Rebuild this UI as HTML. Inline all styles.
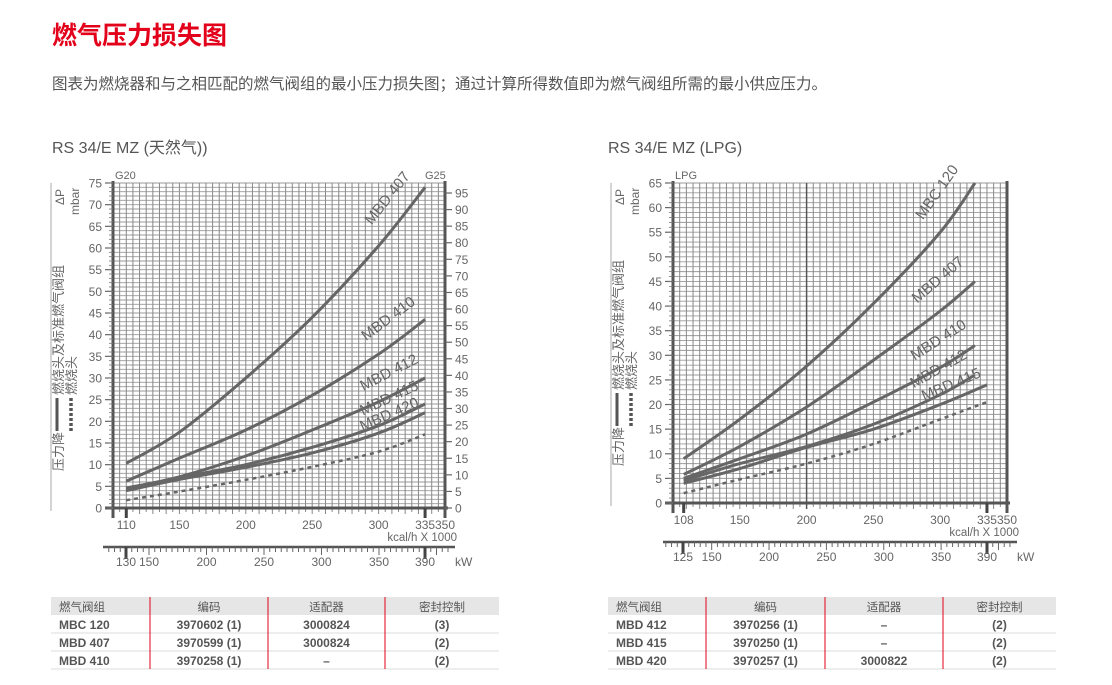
<!DOCTYPE html>
<html><head><meta charset="utf-8">
<style>
body{margin:0;background:#fff;width:1112px;height:685px;overflow:hidden;font-family:"Liberation Sans","Noto Sans CJK SC",sans-serif;}
svg{position:absolute;left:0;top:0}
</style></head>
<body>
<svg id="s" width="1112" height="685" xmlns="http://www.w3.org/2000/svg" font-family="Liberation Sans, Noto Sans CJK SC, sans-serif">
<text x="52" y="44" font-size="25" font-weight="bold" fill="#e2001a">燃气压力损失图</text>
<text x="52" y="89" font-size="15.5" fill="#555">图表为燃烧器和与之相匹配的燃气阀组的最小压力损失图；通过计算所得数值即为燃气阀组所需的最小供应压力。</text>
<text x="52" y="153" font-size="16" fill="#555">RS 34/E MZ (天然气))</text>
<text x="608" y="153" font-size="16" fill="#555">RS 34/E MZ (LPG)</text>
<g id="charts"></g>
<g id="tables"></g>
</svg>
<script>
// ---- Left chart (natural gas) data ----
const leftX = [110, 150, 200, 250, 300, 335];
const leftMBD407 = [10.3, 17.5, 30, 44, 60.5, 74];
const leftMBD410 = [6.2, 11.5, 18, 26, 35.5, 43.5];
const leftMBD412 = [4.6, 7.2, 12, 18, 24.5, 30];
const leftMBD415 = [4.2, 7, 10, 14, 19, 24];
const leftMBD420 = [4.0, 6.6, 9.4, 12.7, 17.3, 22];
const leftHead = [1.8, 3.8, 6.5, 9.5, 13, 17];
const leftYTicks = [0,5,10,15,20,25,30,35,40,45,50,55,60,65,70,75];
const leftG25Ticks = [0,5,10,15,20,25,30,35,40,45,50,55,60,65,70,75,80,85,90,95];
const leftXTicks = [110,150,200,250,300,335,350];
const leftKwTicks = [130,150,200,250,300,350,390];
// ---- Right chart (LPG) data ----
const rightX = [108, 150, 200, 250, 300, 326];
const rightX415 = [108, 150, 200, 250, 300, 335];
const rightMBC120 = [9, 17, 27.8, 40.5, 55, 65];
const rightMBD407 = [5.8, 11.5, 19.5, 29, 39, 45];
const rightMBD410 = [5, 9, 14, 20.5, 27.5, 32];
const rightMBD412 = [4.5, 8, 11.5, 16, 22, 26];
const rightMBD415 = [4, 7, 11.3, 15, 20, 24];
const rightHead = [2, 4.8, 8, 12, 17, 20.5];
const rightYTicks = [0,5,10,15,20,25,30,35,40,45,50,55,60,65];
const rightXTicks = [108,150,200,250,300,335,350];
const rightKwTicks = [125,150,200,250,300,350,390];

const NS="http://www.w3.org/2000/svg";
const root=document.getElementById('charts');
function mk(tag,attrs,parent,txt){const e=document.createElementNS(NS,tag);for(const k in attrs)e.setAttribute(k,attrs[k]);if(txt!==undefined)e.textContent=txt;(parent||root).appendChild(e);return e;}

function chart(c){
  const g=mk('g',{});
  
  
  const sx=v=>c.x0+(v-100)*(c.x1-c.x0)/250;
  const sy=v=>c.y0-(v)*(c.y0-c.y1)/c.ymax;
  const kx=v=>c.k0+(v-c.kv0)*(c.k1-c.k0)/(c.kv1-c.kv0);
  for(let v=0;v<=c.ymax;v++){
    const l=mk('line',{x1:c.x0,x2:c.x1,y1:sy(v),y2:sy(v),stroke:'#9a9a9a','stroke-width':0.9},g);
    
    
  }
  for(let v=100;v<=350;v+=5){
    const thick=(c.thick200&&v===200);
    const l=mk('line',{x1:sx(v),x2:sx(v),y1:c.y1,y2:c.y0+(v%10===0?6:4),stroke:thick?'#555':'#888','stroke-width':thick?1.5:1},g);
    
    
  }
  mk('line',{x1:c.x0,x2:c.x0,y1:c.y1-2,y2:c.y0+10,stroke:'#555','stroke-width':3},g);
  mk('line',{x1:c.x1,x2:c.x1,y1:c.y1-2,y2:c.y0+10,stroke:'#555','stroke-width':3},g);
  mk('line',{x1:c.x0-8,x2:c.x1+3,y1:c.y0,y2:c.y0,stroke:'#555','stroke-width':3},g);
  c.yTicks.forEach(v=>{
    mk('line',{x1:c.x0-8,x2:c.x0,y1:sy(v),y2:sy(v),stroke:'#666','stroke-width':1.2},g);
    const t=mk('text',{x:c.x0-11,y:sy(v)+4.5,'font-size':12,fill:'#666','text-anchor':'end'},g,String(v));
    
    
  });
  for(let v=0;v<=c.ymax;v++) mk('line',{x1:c.x0-4,x2:c.x0,y1:sy(v),y2:sy(v),stroke:'#777','stroke-width':0.8},g);
  if(c.g25){
    const gy=v=>c.y0-v*(c.y0-c.g25top)/95;
    c.g25.forEach(v=>{
      mk('line',{x1:c.x1,x2:c.x1+7,y1:gy(v),y2:gy(v),stroke:'#666','stroke-width':1.2},g);
      const t=mk('text',{x:c.x1+10,y:gy(v)+4.5,'font-size':12,fill:'#666'},g,String(v));
      
      
    });
    mk('text',{x:c.x1-20,y:c.y1-4,'font-size':11,fill:'#666'},g,'G25');
  }
  mk('text',{x:c.x0+2,y:c.y1-4,'font-size':11,fill:'#666'},g,c.gasLabel);
  c.xTicks.forEach(v=>{
    const t=mk('text',{x:sx(v),y:c.y0+21,'font-size':12,fill:'#666','text-anchor':'middle'},g,String(v));
    
    
  });
  mk('line',{x1:sx(c.xTicks[0]),x2:sx(c.xTicks[0]),y1:c.y0,y2:c.y0+10,stroke:'#444','stroke-width':3},g);
  mk('line',{x1:sx(335),x2:sx(335),y1:c.y0,y2:c.y0+10,stroke:'#444','stroke-width':3},g);
  mk('text',{x:c.x1+12,y:c.y0+33,'font-size':11.5,fill:'#666','text-anchor':'end'},g,'kcal/h X 1000');
  const ky=c.y0+39;
  mk('line',{x1:c.x0-10,x2:c.x1+10,y1:ky,y2:ky,stroke:'#555','stroke-width':2.5},g);
  for(let v=c.kv0-25;v<=c.kv1+20;v+=5){const px=kx(v);if(px<c.x0-9||px>c.x1+9)continue;mk('line',{x1:px,x2:px,y1:ky,y2:ky+(v%50===0?8:5),stroke:'#666','stroke-width':1},g);}
  mk('line',{x1:kx(c.kv0),x2:kx(c.kv0),y1:ky,y2:ky+12,stroke:'#444','stroke-width':3},g);
  mk('line',{x1:kx(c.kv1),x2:kx(c.kv1),y1:ky,y2:ky+12,stroke:'#444','stroke-width':3},g);
  c.kw.forEach(v=>{
    const t=mk('text',{x:kx(v),y:ky+19,'font-size':12,fill:'#666','text-anchor':'middle'},g,String(v));
    
    
  });
  mk('text',{x:c.x1+10,y:ky+19,'font-size':12,fill:'#666'},g,'kW');
  // side legend
  mk('line',{x1:c.x0-62,x2:c.x0-62,y1:c.y1,y2:c.y0+3,stroke:'#aaa','stroke-width':1},g);
  mk('text',{transform:`translate(${c.x0-49},${c.y1+22}) rotate(-90)`,'font-size':12,fill:'#666'},g,'ΔP');
  mk('text',{transform:`translate(${c.x0-34},${c.y1+32}) rotate(-90)`,'font-size':12,fill:'#666'},g,'mbar');
  mk('text',{transform:`translate(${c.x0-50},${c.y0-37}) rotate(-90)`,'font-size':13,fill:'#666'},g,'压力降');
  mk('line',{x1:c.x0-56,x2:c.x0-56,y1:c.y0-110,y2:c.y0-77,stroke:'#555','stroke-width':3},g);
  mk('line',{x1:c.x0-42,x2:c.x0-42,y1:c.y0-110,y2:c.y0-77,stroke:'#555','stroke-width':3.5,'stroke-dasharray':'3,2'},g);
  mk('text',{transform:`translate(${c.x0-50},${c.y0-113}) rotate(-90)`,'font-size':13,fill:'#666'},g,'燃烧头及标准燃气阀组');
  mk('text',{transform:`translate(${c.x0-37},${c.y0-113}) rotate(-90)`,'font-size':13,fill:'#666'},g,'燃烧头');
  c.series.forEach(s=>{
    const pts=s.x.map((xv,i)=>[sx(xv),sy(s.y[i])]);
    let d='M'+pts[0][0]+','+pts[0][1];
    for(let i=0;i<pts.length-1;i++){
      const p0=pts[i-1]||pts[i],p1=pts[i],p2=pts[i+1],p3=pts[i+2]||p2;
      d+=` C${p1[0]+(p2[0]-p0[0])/6},${p1[1]+(p2[1]-p0[1])/6} ${p2[0]-(p3[0]-p1[0])/6},${p2[1]-(p3[1]-p1[1])/6} ${p2[0]},${p2[1]}`;
    }
    const p=mk('path',{d:d,fill:'none',stroke:'#666','stroke-width':s.dash?2.5:3,'stroke-dasharray':s.dash?'4,4':'none'},g);
    
    
    if(s.label){
      const n=pts.length-1,a=Math.atan2(pts[n][1]-pts[n-1][1],pts[n][0]-pts[n-1][0])*180/Math.PI;
      const lx=pts[n][0]-34,ly=pts[n][1]+(pts[n-1][1]-pts[n][1])*0.2-4+s.off;
      const t=mk('text',{transform:`translate(${lx},${ly}) rotate(${a})`,'font-size':15,fill:'#666','text-anchor':'middle'},g,s.label);
      
      
    }
  });
}

chart({name:'left-chart',x0:113,x1:445,y0:508,y1:183,ymax:75,yTicks:leftYTicks,g25:leftG25Ticks,g25top:193,gasLabel:'G20',
  xTicks:leftXTicks,kw:leftKwTicks,k0:126,k1:425,kv0:130,kv1:390,
  series:[
    {id:'mbd-407-line',x:leftX,y:leftMBD407,label:'MBD 407',off:6},
    {id:'mbd-410-line',x:leftX,y:leftMBD410,label:'MBD 410',off:0},
    {id:'mbd-412-line',x:leftX,y:leftMBD412,label:'MBD 412',off:-2},
    {id:'mbd-415-line',x:leftX,y:leftMBD415,label:'MBD 415',off:-2},
    {id:'mbd-420-line',x:leftX,y:leftMBD420,label:'MBD 420',off:6},
    {id:'burner-head-line',x:leftX,y:leftHead,dash:true}
  ]});
chart({name:'right-chart',x0:673,x1:1007,y0:503,y1:183,ymax:65,yTicks:rightYTicks,gasLabel:'LPG',thick200:true,
  xTicks:rightXTicks,kw:rightKwTicks,k0:683,k1:987,kv0:125,kv1:390,
  series:[
    {id:'mbc-120-line',x:rightX,y:rightMBC120,label:'MBC 120',off:6},
    {id:'mbd-407-line',x:rightX,y:rightMBD407,label:'MBD 407',off:0},
    {id:'mbd-410-line',x:rightX,y:rightMBD410,label:'MBD 410',off:-2},
    {id:'mbd-412-line',x:rightX,y:rightMBD412,label:'MBD 412',off:-2},
    {id:'mbd-415-line',x:rightX415,y:rightMBD415,label:'MBD 415',off:4},
    {id:'burner-head-line',x:rightX415,y:rightHead,dash:true}
  ]});

const tg=document.getElementById('tables');
function table(name,x,cols,rows){
  const g=mk('g',{},tg);
  
  
  const w=448;
  mk('rect',{x:x,y:597,width:w,height:18,fill:'#e6e6e6'},g);
  const heads=['燃气阀组','编码','适配器','密封控制'];
  const edges=[x].concat(cols).concat([x+w]);
  heads.forEach((h,i)=>{
    const cx=i===0?x+8:(edges[i]+edges[i+1])/2;
    mk('text',{x:cx,y:611,'font-size':11.5,fill:'#555','text-anchor':i===0?'start':'middle'},g,h);
  });
  rows.forEach((r,ri)=>{
    const y=615+ri*18;
    mk('line',{x1:x,x2:x+w,y1:y+18,y2:y+18,stroke:'#ddd','stroke-width':1},g);
    r.forEach((v,i)=>{
      const cx=i===0?x+8:(edges[i]+edges[i+1])/2;
      const t=mk('text',{x:cx,y:y+14,'font-size':12,'font-weight':'bold',fill:'#555','text-anchor':i===0?'start':'middle'},g,v);
      
      
    });
  });
  cols.forEach(c=>mk('line',{x1:c,x2:c,y1:597,y2:669,stroke:'#e2001a','stroke-width':1},g));
}
table('left-valve-table',51,[150,268,385],[['MBC 120','3970602 (1)','3000824','(3)'],['MBD 407','3970599 (1)','3000824','(2)'],['MBD 410','3970258 (1)','–','(2)']]);
table('right-valve-table',608,[706,825,943],[['MBD 412','3970256 (1)','–','(2)'],['MBD 415','3970250 (1)','–','(2)'],['MBD 420','3970257 (1)','3000822','(2)']]);
</script>
</body></html>
